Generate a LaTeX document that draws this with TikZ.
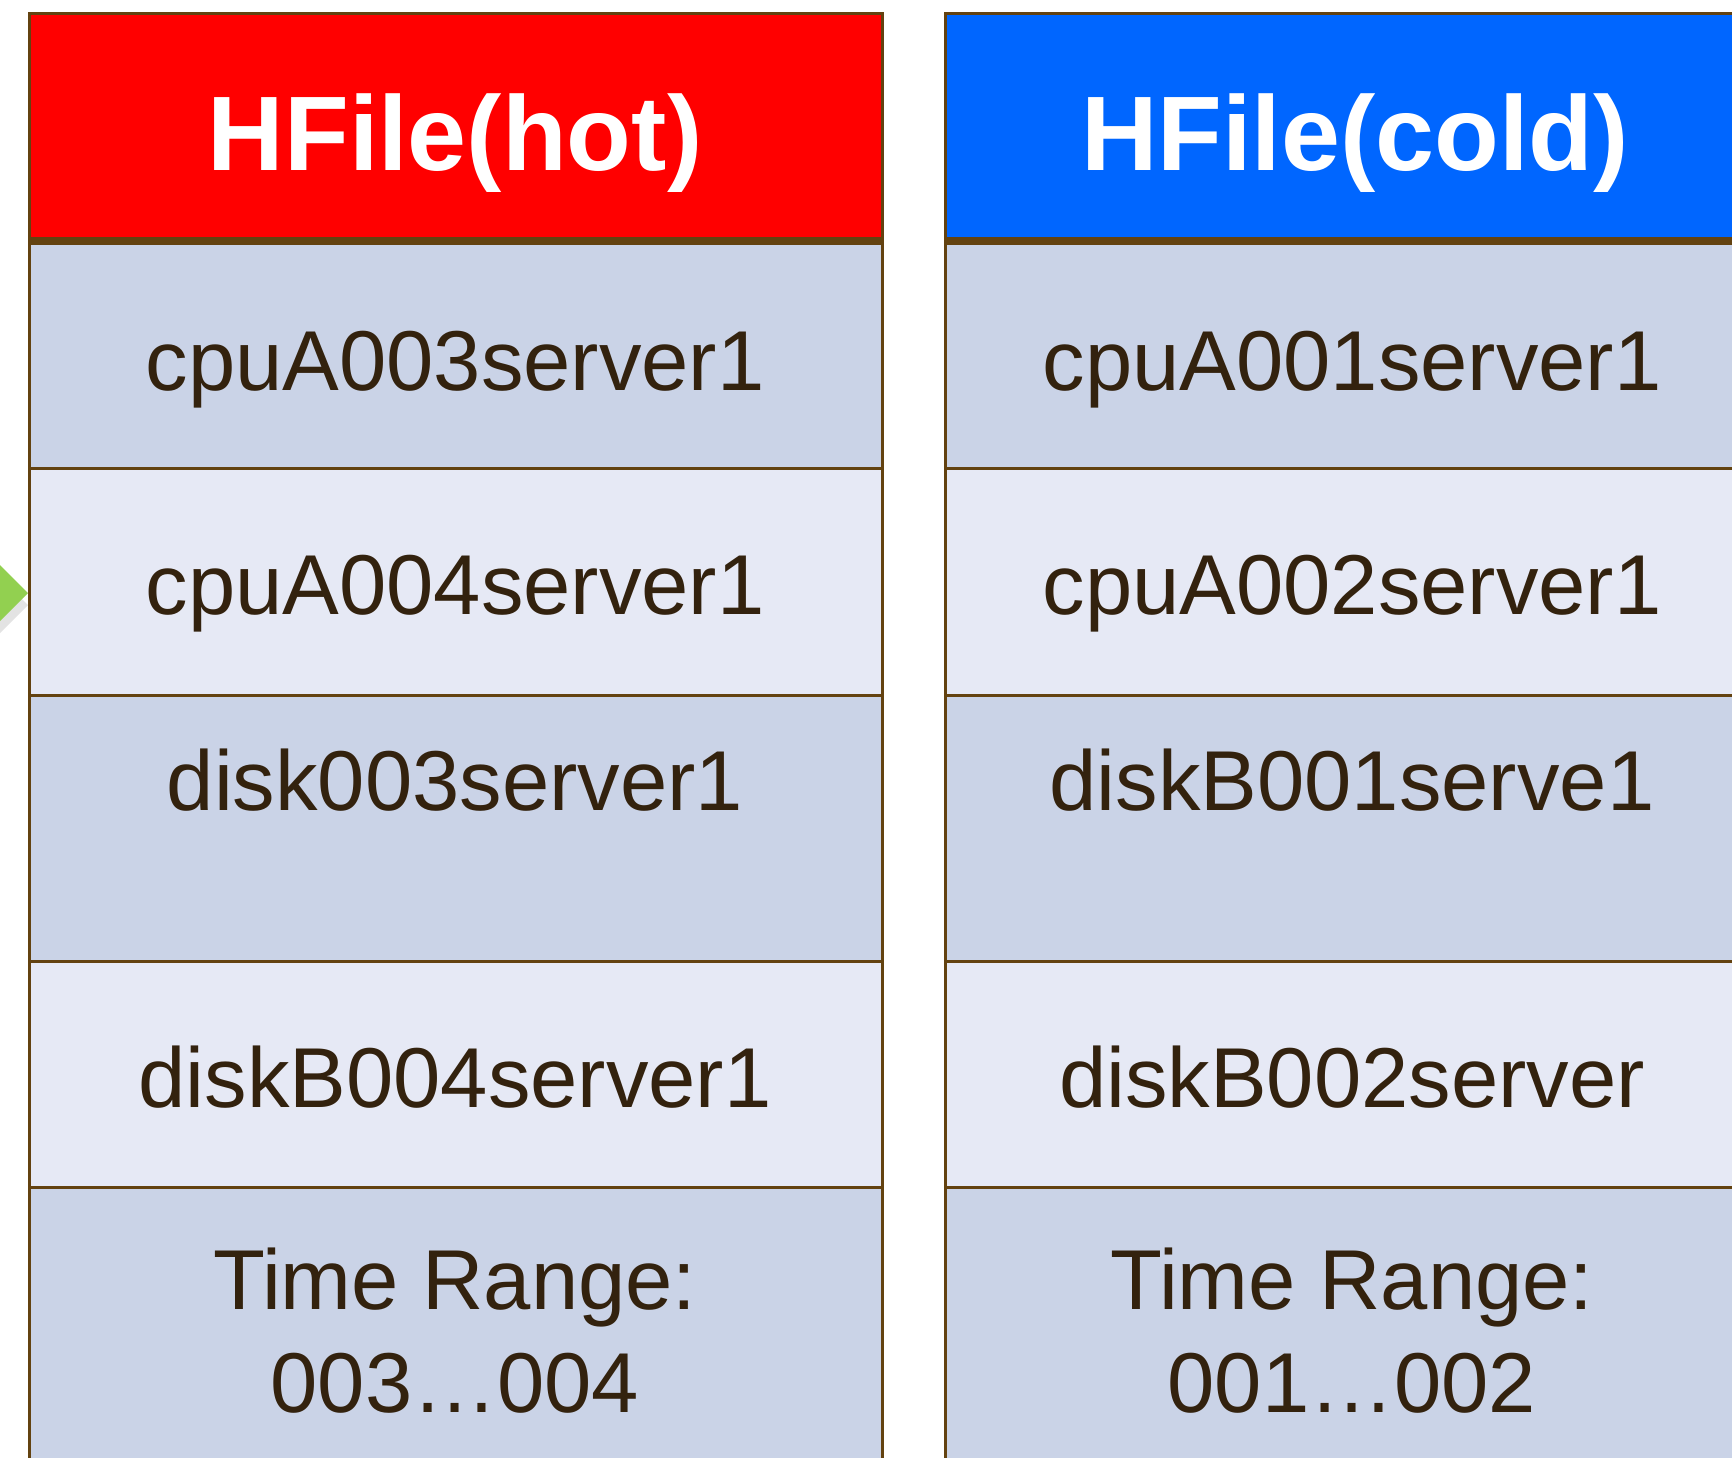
\documentclass[tikz,border=0pt]{standalone}
\usepackage{fontspec}
\setmainfont{Liberation Sans}
\definecolor{rimbrown}{HTML}{634210}
\definecolor{inkbrown}{HTML}{33220E}
\definecolor{rowdark}{HTML}{CAD3E7}
\definecolor{rowlight}{HTML}{E6E9F5}
\definecolor{hotred}{HTML}{FF0000}
\definecolor{coldblue}{HTML}{0066FF}
\definecolor{arrowgreen}{HTML}{92D050}
\definecolor{shadowgray}{HTML}{E3E3E3}
\tikzset{
  headtext/.style={anchor=base, text=white, font=\fontsize{106}{127}\selectfont\bfseries, inner sep=0pt},
  celltext/.style={anchor=base, text=inkbrown, font=\fontsize{85}{103}\selectfont, inner sep=0pt, align=center},
  thinrule/.style={draw=rimbrown, line width=3pt},
  thickrule/.style={draw=rimbrown, line width=7pt},
}
\begin{document}
\begin{tikzpicture}[x=1pt,y=-1pt]
\useasboundingbox (0,0) rectangle (1732,1458);
\clip (0,0) rectangle (1732,1458);
\fill[white] (0,0) rectangle (1732,1458);

% green pointer entering from the left, with its soft shadow
\fill[shadowgray] (-42,535) -- (28,605) -- (-42,675) -- cycle;
\fill[arrowgreen] (-42,523) -- (28,593) -- (-42,663) -- cycle;

% one column of the table: #1 left x, #2 right x, #3 header colour
\newcommand{\hfilecolumn}[3]{%
  \fill[#3] (#1,14) rectangle (#2,241);
  \fill[rowdark]  (#1,241) rectangle (#2,468);
  \fill[rowlight] (#1,468) rectangle (#2,695);
  \fill[rowdark]  (#1,695) rectangle (#2,961);
  \fill[rowlight] (#1,961) rectangle (#2,1187);
  \fill[rowdark]  (#1,1187) rectangle (#2,1500);
  \draw[thinrule] (#1,468) -- (#2,468);
  \draw[thinrule] (#1,695) -- (#2,695);
  \draw[thinrule] (#1,961) -- (#2,961);
  \draw[thinrule] (#1,1187) -- (#2,1187);
  \draw[thinrule] (#1,1500) -- (#1,14) -- (#2,14) -- (#2,1500);
  \draw[thickrule] (#1,241) -- (#2,241);
}

\hfilecolumn{29}{882}{hotred}
\hfilecolumn{945}{1765}{coldblue}

% hot file
\node[headtext] (hothead) at (455,171) {HFile(hot)};
\node[celltext] (hotA) at (455,390) {cpuA003server1};
\node[celltext] (hotB) at (455,614) {cpuA004server1};
\node[celltext] (hotC) at (455,810) {disk003server1};
\node[celltext] (hotD) at (455,1107) {diskB004server1};
\node[celltext] (hotE) at (455,1309) {Time Range:};
\node[celltext] (hotF) at (455,1412) {003…004};

% cold file
\node[headtext] (coldhead) at (1355,171) {HFile(cold)};
\node[celltext] (coldA) at (1352,390) {cpuA001server1};
\node[celltext] (coldB) at (1352,614) {cpuA002server1};
\node[celltext] (coldC) at (1352,810) {diskB001serve1};
\node[celltext] (coldD) at (1352,1107) {diskB002server};
\node[celltext] (coldE) at (1352,1309) {Time Range:};
\node[celltext] (coldF) at (1352,1412) {001…002};
\end{tikzpicture}
\end{document}
